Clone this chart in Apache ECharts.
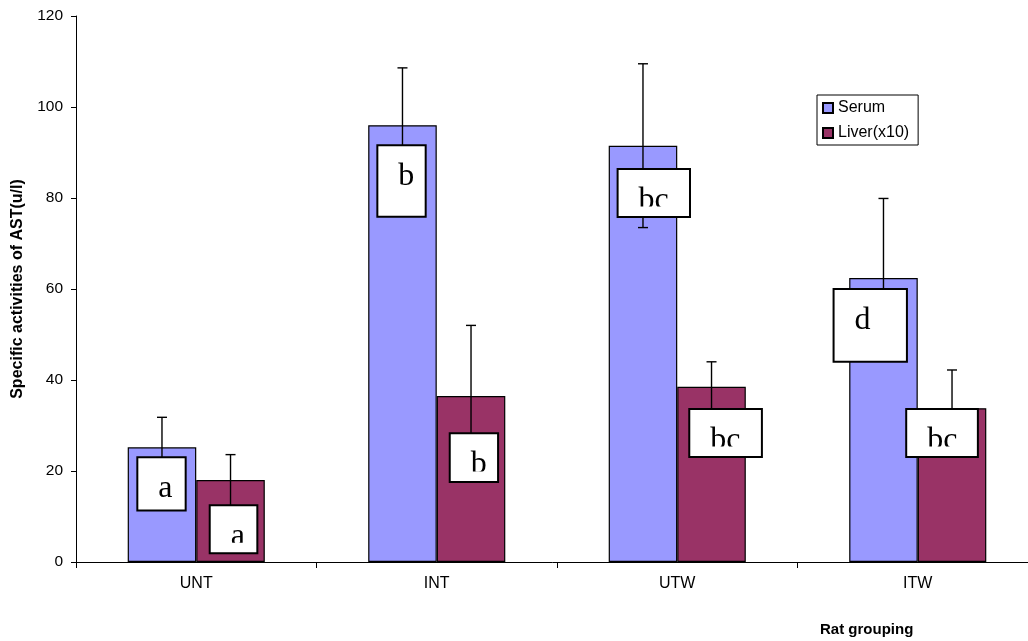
<!DOCTYPE html>
<html>
<head>
<meta charset="utf-8">
<script src="https://cdn.jsdelivr.net/npm/echarts@6/dist/echarts.min.js"></script>
<style>
html,body{margin:0;padding:0;background:#fff;}
#chart{width:1028px;height:641px;}
</style>
</head>
<body>
<div id="chart"></div>
<script>
// ---- data ----
const categories = ['UNT', 'INT', 'UTW', 'ITW'];
const serumMean = [25.2, 96.0, 91.5, 62.4];
const serumSD = [6.6, 12.6, 18.0, 17.5];
const liverMean = [18.0, 36.5, 38.5, 33.8];
const liverSD = [5.6, 15.5, 5.5, 8.4];
const serumLetters = ['a', 'b', 'bc', 'd'];
const liverLetters = ['a', 'b', 'bc', 'bc'];
const yMin = 0, yMax = 120, yStep = 20;

// ---- annotation box extents (value units / fraction of category band) ----
const serumBoxTop = [23.0, 91.6, 86.4, 60.0];
const serumBoxBottom = [11.3, 75.9, 75.8, 44.0];
const serumBoxLeft = [-0.245, -0.247, -0.248, -0.350];
const serumBoxRight = [-0.044, -0.046, 0.053, -0.045];
const liverBoxTop = [12.5, 28.3, 33.6, 33.6];
const liverBoxBottom = [1.9, 17.6, 23.1, 23.1];
const liverBoxLeft = [0.056, 0.054, 0.050, -0.048];
const liverBoxRight = [0.254, 0.255, 0.352, 0.250];

const BAR_FRAC = 0.285;
const SANS = '"Liberation Sans", Arial, sans-serif';
const SERIF = '"Liberation Serif", "Times New Roman", serif';

function errorRenderer(means, sds, side) {
  return function (params, api) {
    const i = params.dataIndex;
    const band = api.size([1, 0])[0];
    const bw = band * BAR_FRAC;
    const c = api.coord([i, means[i]]);
    const x = c[0] + side * bw / 2;
    const yt = api.coord([i, means[i] + sds[i]])[1];
    const yb = api.coord([i, means[i] - sds[i]])[1];
    const st = { stroke: '#000', lineWidth: 1.4 };
    return {
      type: 'group',
      children: [
        { type: 'line', shape: { x1: x, y1: yt, x2: x, y2: yb }, style: st },
        { type: 'line', shape: { x1: x - 5, y1: yt, x2: x + 5, y2: yt }, style: st },
        { type: 'line', shape: { x1: x - 5, y1: yb, x2: x + 5, y2: yb }, style: st }
      ]
    };
  };
}

function boxRenderer(tops, bottoms, lefts, rights, letters) {
  return function (params, api) {
    const i = params.dataIndex;
    const band = api.size([1, 0])[0];
    const ct = api.coord([i, tops[i]]);
    const cb = api.coord([i, bottoms[i]]);
    const x0 = ct[0] + lefts[i] * band;
    const x1 = ct[0] + rights[i] * band;
    const y0 = ct[1], y1 = cb[1];
    const w = x1 - x0, h = y1 - y0;
    return {
      type: 'group',
      children: [
        { type: 'rect', shape: { x: x0, y: y0, width: w, height: h }, style: { fill: '#fff' } },
        { type: 'text', style: { text: letters[i], x: x0 + 21, y: y0 + 31.5, fill: '#000',
            fontSize: 32, fontFamily: SERIF, align: 'left', verticalAlign: 'middle' } },
        { type: 'rect', shape: { x: x0, y: y1 - 10.5, width: w, height: 10.5 }, style: { fill: '#fff' } },
        { type: 'rect', shape: { x: x0, y: y0, width: w, height: h }, style: { fill: 'none', stroke: '#000', lineWidth: 2 } }
      ]
    };
  };
}

const chart = echarts.init(document.getElementById('chart'), null, { renderer: 'canvas' });
const idxData = categories.map((c, i) => [i, 0]);

chart.setOption({
  animation: false,
  backgroundColor: '#fff',
  grid: { left: 76, right: -10, top: 16, bottom: 79, containLabel: false, outerBoundsMode: 'none' },
  legend: {
    orient: 'vertical',
    left: 817, top: 95,
    padding: [5, 9, 4, 5],
    itemGap: 9,
    itemWidth: 10, itemHeight: 10,
    icon: 'rect',
    borderColor: '#000', borderWidth: 1,
    textStyle: { fontSize: 16, fontFamily: SANS, color: '#000', padding: [0, 0, 0, 0] },
    data: ['Serum', 'Liver(x10)']
  },
  xAxis: {
    type: 'category',
    data: categories,
    boundaryGap: true,
    axisLine: { lineStyle: { color: '#000', width: 1 } },
    axisTick: { show: true, length: 6, lineStyle: { color: '#000' } },
    axisLabel: { fontSize: 16, fontFamily: SANS, color: '#000', margin: 14 },
    splitLine: { show: false }
  },
  yAxis: {
    type: 'value',
    min: yMin, max: yMax, interval: yStep,
    name: 'Specific activities of AST(u/l)',
    nameLocation: 'middle',
    nameGap: 50,
    nameTextStyle: { fontSize: 16, fontWeight: 'bold', fontFamily: SANS, color: '#000' },
    axisLine: { show: true, lineStyle: { color: '#000', width: 1 } },
    axisTick: { show: true, length: 5, lineStyle: { color: '#000' } },
    axisLabel: { fontSize: 15.5, fontFamily: SANS, color: '#000', margin: 13 },
    splitLine: { show: false }
  },
  graphic: [
    { type: 'text', left: 820, top: 622, style: { text: 'Rat grouping', fontSize: 15, fontWeight: 'bold', fontFamily: SANS, fill: '#000' } }
  ],
  series: [
    {
      name: 'Serum', type: 'bar', data: serumMean, barWidth: (BAR_FRAC * 100) + '%', barGap: '0%',
      itemStyle: { color: '#9999FF', borderColor: '#000', borderWidth: 1.2 }, z: 2
    },
    {
      name: 'Liver(x10)', type: 'bar', data: liverMean, barWidth: (BAR_FRAC * 100) + '%', barGap: '0%',
      itemStyle: { color: '#993366', borderColor: '#000', borderWidth: 1.2 }, z: 2
    },
    { type: 'custom', data: idxData, renderItem: errorRenderer(serumMean, serumSD, -1), z: 3, silent: true, clip: false },
    { type: 'custom', data: idxData, renderItem: errorRenderer(liverMean, liverSD, 1), z: 3, silent: true, clip: false },
    { type: 'custom', data: idxData, renderItem: boxRenderer(serumBoxTop, serumBoxBottom, serumBoxLeft, serumBoxRight, serumLetters), z: 4, silent: true, clip: false },
    { type: 'custom', data: idxData, renderItem: boxRenderer(liverBoxTop, liverBoxBottom, liverBoxLeft, liverBoxRight, liverLetters), z: 4, silent: true, clip: false }
  ]
});
</script>
</body>
</html>
